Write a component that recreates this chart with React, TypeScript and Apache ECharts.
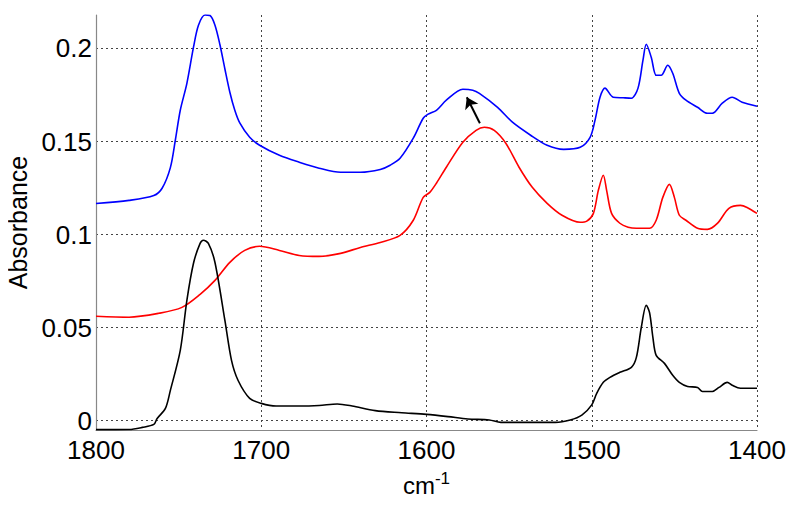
import React, { useEffect, useRef } from "react";
import * as echarts from "echarts";

const blueWn = [1800,1780,1765,1760,1755,1752,1749,1745,1741,1738,1734,1731,1728,1725,1722,1719,1716,1713,1707,1701,1689,1677,1665,1652,1640,1628,1622,1616,1608,1602,1599,1594,1588,1578,1572,1568,1557,1548,1537,1527,1517,1507,1501,1498,1495,1492,1487,1481,1476,1472,1469,1467,1464,1461,1458,1454,1451,1447,1443,1436,1430,1427,1421,1415,1409,1400];
const blueAbs = [0.1167,0.1184,0.121,0.1249,0.136,0.1507,0.1668,0.1813,0.2007,0.2125,0.218,0.2177,0.2125,0.202,0.189,0.1765,0.1668,0.16,0.1523,0.148,0.1426,0.1389,0.1357,0.1335,0.1335,0.135,0.1373,0.141,0.1518,0.1625,0.1647,0.1668,0.1722,0.1781,0.1776,0.1759,0.1684,0.1604,0.1534,0.148,0.1458,0.1469,0.1523,0.1615,0.1738,0.1787,0.1738,0.1735,0.1733,0.1787,0.1937,0.2023,0.1953,0.1856,0.1856,0.191,0.1867,0.1759,0.1722,0.1684,0.1652,0.1652,0.1706,0.1738,0.1711,0.169];

const redWn = [1800,1780,1762,1748,1737,1728,1719,1710,1701,1689,1677,1665,1652,1640,1628,1616,1608,1602,1598,1594,1588,1578,1570,1565,1559,1552,1544,1536,1527,1518,1507,1503,1499,1496,1493,1491,1488,1483,1478,1473,1465,1461,1457,1453,1450,1447,1443,1436,1430,1424,1417,1410,1406,1400];
const redAbs = [0.0561,0.0556,0.0577,0.0609,0.0679,0.0754,0.0851,0.0915,0.0937,0.0915,0.0888,0.0883,0.0899,0.0931,0.0958,0.0996,0.1077,0.12,0.1227,0.1276,0.1362,0.1496,0.156,0.1577,0.156,0.1491,0.1362,0.1254,0.1168,0.1104,0.1066,0.1072,0.1114,0.1238,0.1319,0.1238,0.1114,0.1061,0.104,0.1034,0.1034,0.1077,0.12,0.127,0.12,0.1104,0.1077,0.1034,0.1028,0.106,0.1141,0.1157,0.1146,0.1114];

const blackWn = [1800,1780,1772,1765,1763,1758,1755,1749,1745,1741,1737,1735,1732,1728,1722,1718,1714,1707,1700,1691,1677,1665,1654,1645,1631,1615,1600,1587,1575,1562,1555,1522,1513,1506,1500,1497,1493,1489,1483,1476,1473,1470,1467,1465,1463,1461,1456,1451,1447,1442,1436,1433,1427,1423,1418,1415,1410,1400];
const blackAbs = [-0.0048,-0.0047,-0.0036,-0.002,0.0012,0.0066,0.0163,0.0378,0.0647,0.0846,0.0953,0.097,0.0953,0.085,0.0539,0.0324,0.0216,0.012,0.0093,0.0079,0.0079,0.0082,0.009,0.0079,0.0054,0.0043,0.0034,0.0022,0.0009,0.0004,-0.0009,-0.0009,0.0004,0.003,0.0085,0.0147,0.0206,0.0233,0.026,0.0287,0.034,0.0502,0.062,0.058,0.0448,0.0351,0.0308,0.0244,0.0206,0.0184,0.0179,0.0157,0.0157,0.0179,0.0206,0.019,0.0174,0.0174];

// arrow from red peak to blue peak: [wavenumber, absorbance]
const arrowFrom = [1567.7, 0.1598];
const arrowTo = [1575.6, 0.1738];

const xTicks = [1800, 1700, 1600, 1500, 1400];

const FONT = "'Liberation Sans', Arial, Helvetica, sans-serif";

function pairs(xs: number[], ys: number[]) {
  return xs.map((x, i) => [x, ys[i]]);
}

export default function App() {
  const ref = useRef<HTMLDivElement>(null);
  useEffect(() => {
    if (!ref.current) return;
    const chart = echarts.init(ref.current, null, { renderer: "svg" });
    const gridLine = { show: true, lineStyle: { color: "#444", type: [2, 3] as any, width: 1 } };
    const lineSeries = (name: string, color: string, xs: number[], ys: number[], extra: any = {}) => ({
      name,
      type: "line",
      data: pairs(xs, ys),
      showSymbol: false,
      smooth: 0.3,
      lineStyle: { color, width: 1.6 },
      itemStyle: { color },
      ...extra,
    });
    chart.setOption({
      animation: false,
      backgroundColor: "#fff",
      grid: { left: 96, right: 43, top: 15, bottom: 78, containLabel: false, outerBoundsMode: "none" },
      xAxis: {
        type: "value",
        inverse: true,
        min: xTicks[xTicks.length - 1],
        max: xTicks[0],
        interval: 100,
        name: "{b|cm}{s|-1}",
        nameLocation: "middle",
        nameGap: 40,
        nameTextStyle: {
          rich: {
            b: { fontFamily: FONT, fontSize: 24, color: "#000", lineHeight: 30 },
            s: { fontFamily: FONT, fontSize: 17, color: "#000", verticalAlign: "top", lineHeight: 17 },
          },
        },
        axisLine: { show: true, onZero: false, lineStyle: { color: "#888", width: 1.2 } },
        axisTick: { show: false },
        axisLabel: { fontFamily: FONT, fontSize: 26, color: "#000", margin: 7, formatter: (v: number) => String(v) },
        splitLine: gridLine,
      },
      yAxis: {
        type: "value",
        min: -0.005,
        max: 0.218,
        splitNumber: 5,
        name: "Absorbance",
        nameLocation: "middle",
        nameGap: 58,
        nameTextStyle: { fontFamily: FONT, fontSize: 25, color: "#000" },
        axisLine: { show: true, onZero: false, lineStyle: { color: "#888", width: 1.2 } },
        axisTick: { show: false },
        axisLabel: {
          fontFamily: FONT,
          fontSize: 26,
          color: "#000",
          margin: 4,
          showMinLabel: false,
          showMaxLabel: false,
          formatter: (v: number) => String(Math.round(v * 1000) / 1000),
        },
        splitLine: { ...gridLine, showMinLine: false, showMaxLine: false },
      },
      series: [
        lineSeries("blue", "#0000ff", blueWn, blueAbs),
        lineSeries("red", "#ff0000", redWn, redAbs, {
          markLine: {
            silent: true,
            symbol: ["none", "arrow"],
            symbolSize: 11,
            label: { show: false },
            lineStyle: { color: "#000", width: 2, type: "solid" },
            data: [[{ coord: arrowFrom }, { coord: arrowTo }]],
          },
        }),
        lineSeries("black", "#000000", blackWn, blackAbs),
      ],
    });
    return () => chart.dispose();
  }, []);
  return <div ref={ref} style={{ width: 800, height: 508, margin: -8 }} />;
}
